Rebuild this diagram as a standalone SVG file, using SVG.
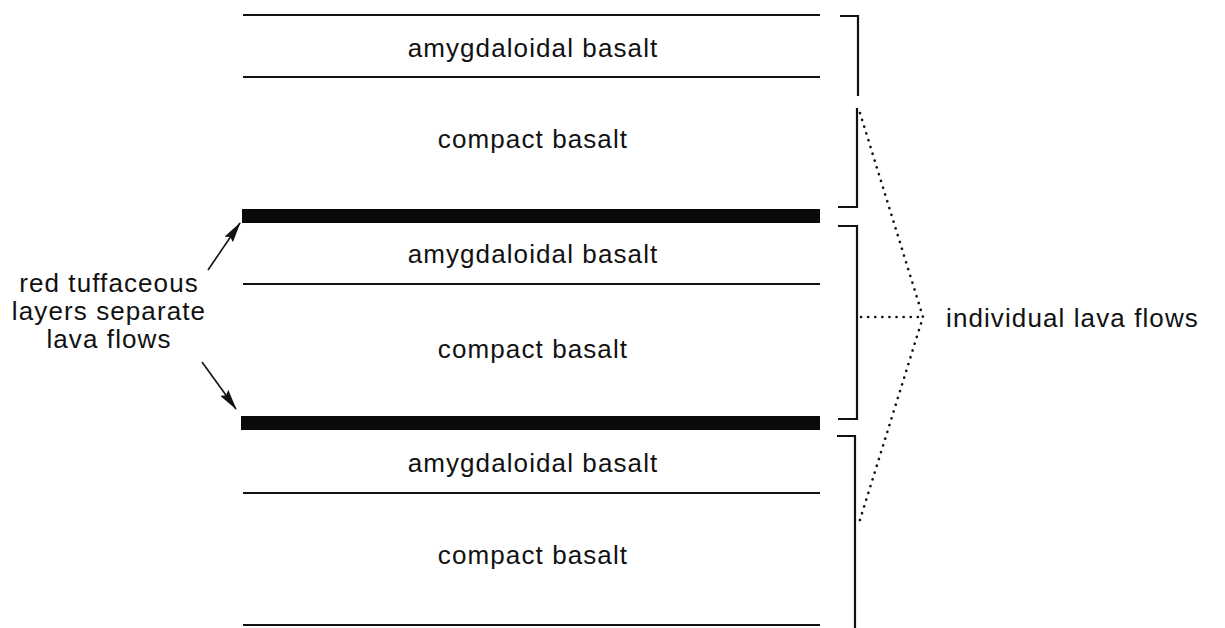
<svg xmlns="http://www.w3.org/2000/svg" width="1225" height="628" viewBox="0 0 1225 628">
  <style>
    .lbl { font-family: "Liberation Sans", Arial, sans-serif; font-size: 26px; letter-spacing: 1.1px; fill: #111; }
    .mid { text-anchor: middle; }
    .rule { stroke: #111; stroke-width: 2; fill: none; }
    .bar { fill: #0a0a0a; }
    .brk { stroke: #111; stroke-width: 2.2; fill: none; }
    .dot { stroke: #111; stroke-width: 2.6; fill: none; stroke-dasharray: 0.1 7; stroke-linecap: round; }
    .arr { stroke: #111; stroke-width: 1.6; fill: none; marker-end: url(#head); }
  </style>
  <defs>
    <marker id="head" viewBox="0 0 21 10" refX="20" refY="5" markerWidth="21" markerHeight="10" markerUnits="userSpaceOnUse" orient="auto">
      <path d="M0,0 L21,5 L0,10 L3,5 Z" fill="#111"/>
    </marker>
  </defs>
  <rect width="1225" height="628" fill="#fff"/>

  <!-- flow 1 -->
  <g id="flow1">
    <line class="rule" x1="243" y1="15" x2="820" y2="15"/>
    <text class="lbl mid" x="533" y="57">amygdaloidal basalt</text>
    <line class="rule" x1="243" y1="77" x2="820" y2="77"/>
    <text class="lbl mid" x="533" y="148">compact basalt</text>
  </g>

  <!-- tuff layer 1 -->
  <g id="tuff1"><rect class="bar" x="242" y="209" width="578" height="14"/></g>

  <!-- flow 2 -->
  <g id="flow2">
    <text class="lbl mid" x="533" y="263">amygdaloidal basalt</text>
    <line class="rule" x1="243" y1="284" x2="820" y2="284"/>
    <text class="lbl mid" x="533" y="358">compact basalt</text>
  </g>

  <!-- tuff layer 2 -->
  <g id="tuff2"><rect class="bar" x="241" y="416" width="579" height="14"/></g>

  <!-- flow 3 -->
  <g id="flow3">
    <text class="lbl mid" x="533" y="472">amygdaloidal basalt</text>
    <line class="rule" x1="243" y1="493" x2="820" y2="493"/>
    <text class="lbl mid" x="533" y="564">compact basalt</text>
    <line class="rule" x1="243" y1="625" x2="820" y2="625"/>
  </g>

  <!-- left note -->
  <g id="note-tuff">
    <text class="lbl mid" x="109" y="292">red tuffaceous</text>
    <text class="lbl mid" x="109" y="320">layers separate</text>
    <text class="lbl mid" x="109" y="348">lava flows</text>
  </g>

  <!-- right note -->
  <g id="note-flows">
    <text class="lbl" x="946" y="327" letter-spacing="1.4">individual lava flows</text>
  </g>

  <!-- brackets, pointers and leader lines -->
  <g id="connectors">
    <path class="brk" d="M840,16 H858 V96"/>
    <path class="brk" d="M857,108 V207 H838"/>
    <path class="brk" d="M838,226 H857 V419 H838"/>
    <path class="brk" d="M837,436 H855 V628"/>
    <path class="dot" d="M860,113 L923,317 L859,523"/>
    <path class="dot" d="M861,317 H923"/>
    <line class="arr" x1="208" y1="270" x2="240" y2="223"/>
    <line class="arr" x1="202" y1="362" x2="236" y2="409"/>
  </g>
</svg>
